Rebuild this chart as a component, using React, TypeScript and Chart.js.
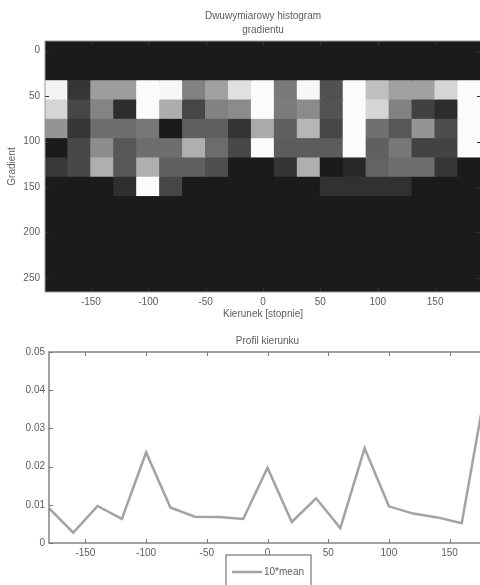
import React, { useEffect, useRef } from 'react';
import { Chart, registerables } from 'chart.js';

Chart.register(...registerables);

// ---------- data ----------
const directions = [-180, -160, -140, -120, -100, -80, -60, -40, -20, 0, 20, 40, 60, 80, 100, 120, 140, 160, 180];
const gradientBins = [0, 21.25, 42.5, 63.75, 85, 106.25, 127.5, 148.75, 170, 191.25, 212.5, 233.75, 255];
const gradientBinWidth = 21.25;
const directionRange = [-190, 190];

// normalised 2D histogram values, one array per gradient bin (row)
const hist0 = [0, 0, 0, 0, 0, 0, 0, 0, 0, 0, 0, 0, 0, 0, 0, 0, 0, 0, 0];
const hist1 = [0, 0, 0, 0, 0, 0, 0, 0, 0, 0, 0, 0, 0, 0, 0, 0, 0, 0, 0];
const hist2 = [0.97, 0.12, 0.58, 0.58, 1, 0.98, 0.46, 0.6, 0.88, 1, 0.42, 0.98, 0.24, 1, 0.73, 0.6, 0.6, 0.83, 1];
const hist3 = [0.83, 0.19, 0.47, 0.08, 1, 0.65, 0.19, 0.46, 0.5, 1, 0.43, 0.5, 0.25, 1, 0.83, 0.46, 0.17, 0.08, 1];
const hist4 = [0.54, 0.12, 0.37, 0.37, 0.41, 0, 0.3, 0.3, 0.11, 0.64, 0.31, 0.69, 0.19, 1, 0.38, 0.27, 0.54, 0.22, 1];
const hist5 = [0, 0.2, 0.51, 0.27, 0.37, 0.37, 0.66, 0.36, 0.2, 1, 0.29, 0.29, 0.29, 1, 0.31, 0.41, 0.18, 0.18, 1];
const hist6 = [0.13, 0.2, 0.66, 0.27, 0.66, 0.31, 0.31, 0.23, 0, 0, 0.11, 0.66, 0, 0.06, 0.32, 0.37, 0.37, 0.12, 0];
const hist7 = [0, 0, 0, 0.09, 1, 0.19, 0, 0, 0, 0, 0, 0, 0.1, 0.1, 0.1, 0.1, 0, 0, 0];
const hist8 = [0, 0, 0, 0, 0, 0, 0, 0, 0, 0, 0, 0, 0, 0, 0, 0, 0, 0, 0];
const hist9 = [0, 0, 0, 0, 0, 0, 0, 0, 0, 0, 0, 0, 0, 0, 0, 0, 0, 0, 0];
const hist10 = [0, 0, 0, 0, 0, 0, 0, 0, 0, 0, 0, 0, 0, 0, 0, 0, 0, 0, 0];
const hist11 = [0, 0, 0, 0, 0, 0, 0, 0, 0, 0, 0, 0, 0, 0, 0, 0, 0, 0, 0];
const hist12 = [0, 0, 0, 0, 0, 0, 0, 0, 0, 0, 0, 0, 0, 0, 0, 0, 0, 0, 0];
const histRows = [hist0, hist1, hist2, hist3, hist4, hist5, hist6, hist7, hist8, hist9, hist10, hist11, hist12];

// direction profile (10*mean)
const profileMean = [0.0091, 0.0027, 0.0097, 0.0063, 0.0237, 0.0093, 0.0069, 0.0068, 0.0063, 0.0197, 0.0055, 0.0117, 0.0039, 0.0248, 0.0096, 0.0077, 0.0067, 0.0052, 0.041];

const heatXTicks = [-150, -100, -50, 0, 50, 100, 150];
const heatYTicks = [0, 50, 100, 150, 200, 250];
const profileXTicks = [-150, -100, -50, 0, 50, 100, 150];
const profileYTicks = [0, 0.01, 0.02, 0.03, 0.04, 0.05];

// ---------- styles ----------
const FONT = 'Liberation Sans, Arial, Helvetica, sans-serif';
const TEXT = '#5c5c5c';

function grayColor(v: number): string {
  const g = Math.round(28 + v * 224);
  return `rgb(${g},${g - 1},${g - 1})`;
}

const areaBackground = {
  id: 'areaBackground',
  beforeDatasetsDraw(chart: any, _args: any, opts: any) {
    if (!opts || !opts.color) return;
    const { ctx, chartArea: a } = chart;
    ctx.save();
    ctx.fillStyle = opts.color;
    ctx.fillRect(a.left, a.top, a.right - a.left, a.bottom - a.top);
    ctx.restore();
  },
};

const frameTicks = {
  id: 'frameTicks',
  afterDatasetsDraw(chart: any, _args: any, opts: any) {
    const { ctx, chartArea: a, scales } = chart;
    const L = opts.length ?? 4;
    ctx.save();
    ctx.lineWidth = opts.tickWidth ?? 1;
    ctx.strokeStyle = opts.tickColor;
    ctx.beginPath();
    scales.x.ticks.forEach((t: any) => {
      const px = Math.round(scales.x.getPixelForValue(t.value)) + 0.5;
      ctx.moveTo(px, a.bottom);
      ctx.lineTo(px, a.bottom - L);
      ctx.moveTo(px, a.top);
      ctx.lineTo(px, a.top + L);
    });
    scales.y.ticks.forEach((t: any) => {
      const py = Math.round(scales.y.getPixelForValue(t.value)) + 0.5;
      ctx.moveTo(a.left, py);
      ctx.lineTo(a.left + L, py);
      ctx.moveTo(a.right, py);
      ctx.lineTo(a.right - L, py);
    });
    ctx.stroke();
    ctx.lineWidth = opts.frameWidth ?? 1;
    ctx.strokeStyle = opts.frameColor;
    ctx.strokeRect(a.left, a.top, a.right - a.left, a.bottom - a.top);
    ctx.restore();
  },
};

const boxLegend = {
  id: 'boxLegend',
  afterDraw(chart: any, _args: any, opts: any) {
    if (!opts || !opts.display) return;
    const { ctx } = chart;
    const ds = chart.data.datasets[0];
    const [x, y, w, h] = opts.box;
    ctx.save();
    ctx.fillStyle = '#ffffff';
    ctx.fillRect(x, y, w, h);
    ctx.strokeStyle = opts.frameColor;
    ctx.lineWidth = 1.2;
    ctx.strokeRect(x, y, w, h);
    const ly = y + opts.lineOffsetY;
    ctx.strokeStyle = ds.borderColor;
    ctx.lineWidth = ds.borderWidth;
    ctx.beginPath();
    ctx.moveTo(x + 6, ly);
    ctx.lineTo(x + 36, ly);
    ctx.stroke();
    ctx.fillStyle = TEXT;
    ctx.font = `10px ${FONT}`;
    ctx.textBaseline = 'middle';
    ctx.textAlign = 'left';
    ctx.fillText(ds.label, x + 38, ly);
    ctx.restore();
  },
};

export default function App() {
  const heatRef = useRef<HTMLCanvasElement | null>(null);
  const profRef = useRef<HTMLCanvasElement | null>(null);

  useEffect(() => {
    document.body.style.margin = '0';
    const half = gradientBinWidth / 2;
    const font = { family: FONT, size: 10, weight: 'normal' as const };

    const heatDatasets = histRows.map((row, r) => ({
      label: `g${gradientBins[r]}`,
      data: directions.map((d) => ({ x: d, y: [gradientBins[r] - half, gradientBins[r] + half] })),
      backgroundColor: row.map(grayColor),
      borderWidth: 0,
      inflateAmount: 0.6,
      barPercentage: 1,
      categoryPercentage: 1,
      grouped: false,
    }));

    const heat = new Chart(heatRef.current as HTMLCanvasElement, {
      type: 'bar',
      data: { datasets: heatDatasets as any },
      plugins: [areaBackground, frameTicks],
      options: {
        animation: false,
        responsive: false,
        maintainAspectRatio: false,
        events: [],
        layout: { padding: { left: 0, right: 9, top: 0, bottom: 0 } },
        plugins: {
          legend: { display: false },
          tooltip: { enabled: false },
          title: {
            display: true,
            text: ['Dwuwymiarowy histogram', 'gradientu'],
            fullSize: false,
            color: TEXT,
            font: { family: FONT, size: 10, weight: 'normal', lineHeight: 1.4 },
            padding: { top: 9, bottom: 4 },
          },
          areaBackground: { color: grayColor(0) },
          frameTicks: { tickColor: '#333333', frameColor: '#9a9a9a', length: 4 },
        } as any,
        scales: {
          x: {
            type: 'linear',
            min: directionRange[0],
            max: directionRange[1],
            offset: false,
            stacked: true,
            grid: { display: false, drawTicks: false },
            border: { display: false },
            ticks: { padding: 4, color: TEXT, font, autoSkip: false, maxRotation: 0, callback: (v: any) => String(v) },
            afterBuildTicks: (s: any) => { s.ticks = heatXTicks.map((v) => ({ value: v })); },
            afterFit: (s: any) => { s.height = 33; },
            title: { display: true, text: 'Kierunek [stopnie]', color: TEXT, font, padding: { top: 0, bottom: 5 } },
          },
          y: {
            type: 'linear',
            reverse: true,
            stacked: false,
            min: gradientBins[0] - half,
            max: gradientBins[gradientBins.length - 1] + half,
            grid: { display: false, drawTicks: false },
            border: { display: false },
            ticks: { padding: 5, color: TEXT, font, autoSkip: false, callback: (v: any) => String(v) },
            afterBuildTicks: (s: any) => { s.ticks = heatYTicks.map((v) => ({ value: v })); },
            afterFit: (s: any) => { s.width = 45; },
            title: { display: true, text: 'Gradient', color: TEXT, font, padding: { top: 6, bottom: 0 } },
          },
        } as any,
      },
    });

    const prof = new Chart(profRef.current as HTMLCanvasElement, {
      type: 'line',
      data: {
        datasets: [
          {
            label: '10*mean',
            data: directions.map((d, i) => ({ x: d, y: profileMean[i] })),
            borderColor: '#a3a3a3',
            borderWidth: 2.5,
            pointRadius: 0,
            fill: false,
            tension: 0,
          },
        ],
      },
      plugins: [frameTicks, boxLegend],
      options: {
        animation: false,
        responsive: false,
        maintainAspectRatio: false,
        events: [],
        layout: { padding: { left: 0, right: 4, top: 0, bottom: 0 } },
        plugins: {
          legend: { display: false },
          tooltip: { enabled: false },
          title: {
            display: true,
            text: 'Profil kierunku',
            fullSize: false,
            color: TEXT,
            font: { family: FONT, size: 10, weight: 'normal', lineHeight: 1.2 },
            padding: { top: 10, bottom: 5 },
          },
          frameTicks: { tickColor: '#777777', frameColor: '#7a7a7a', frameWidth: 1.4, length: 4 },
          boxLegend: { display: true, box: [226, 230, 85, 40], lineOffsetY: 17, frameColor: '#777777' },
        } as any,
        scales: {
          x: {
            type: 'linear',
            min: -180,
            max: 180,
            grid: { display: false, drawTicks: false },
            border: { display: false },
            ticks: { padding: 4, color: TEXT, font, autoSkip: false, maxRotation: 0, callback: (v: any) => String(v) },
            afterBuildTicks: (s: any) => { s.ticks = profileXTicks.map((v) => ({ value: v })); },
            afterFit: (s: any) => { s.height = 42; },
          },
          y: {
            type: 'linear',
            min: 0,
            max: 0.05,
            grid: { display: false, drawTicks: false },
            border: { display: false },
            ticks: { padding: 4, color: TEXT, font, autoSkip: false, callback: (v: any) => String(v) },
            afterBuildTicks: (s: any) => { s.ticks = profileYTicks.map((v) => ({ value: v })); },
            afterFit: (s: any) => { s.width = 49; },
          },
        } as any,
      },
    });

    return () => {
      heat.destroy();
      prof.destroy();
    };
  }, []);

  return (
    <div style={{ position: 'fixed', left: 0, top: 0, width: 480, height: 585, overflow: 'hidden', background: '#ffffff' }}>
      <canvas ref={heatRef} width={490} height={325} style={{ position: 'absolute', left: 0, top: 0, width: 490, height: 325 }} />
      <canvas ref={profRef} width={490} height={260} style={{ position: 'absolute', left: 0, top: 325, width: 490, height: 260 }} />
    </div>
  );
}
